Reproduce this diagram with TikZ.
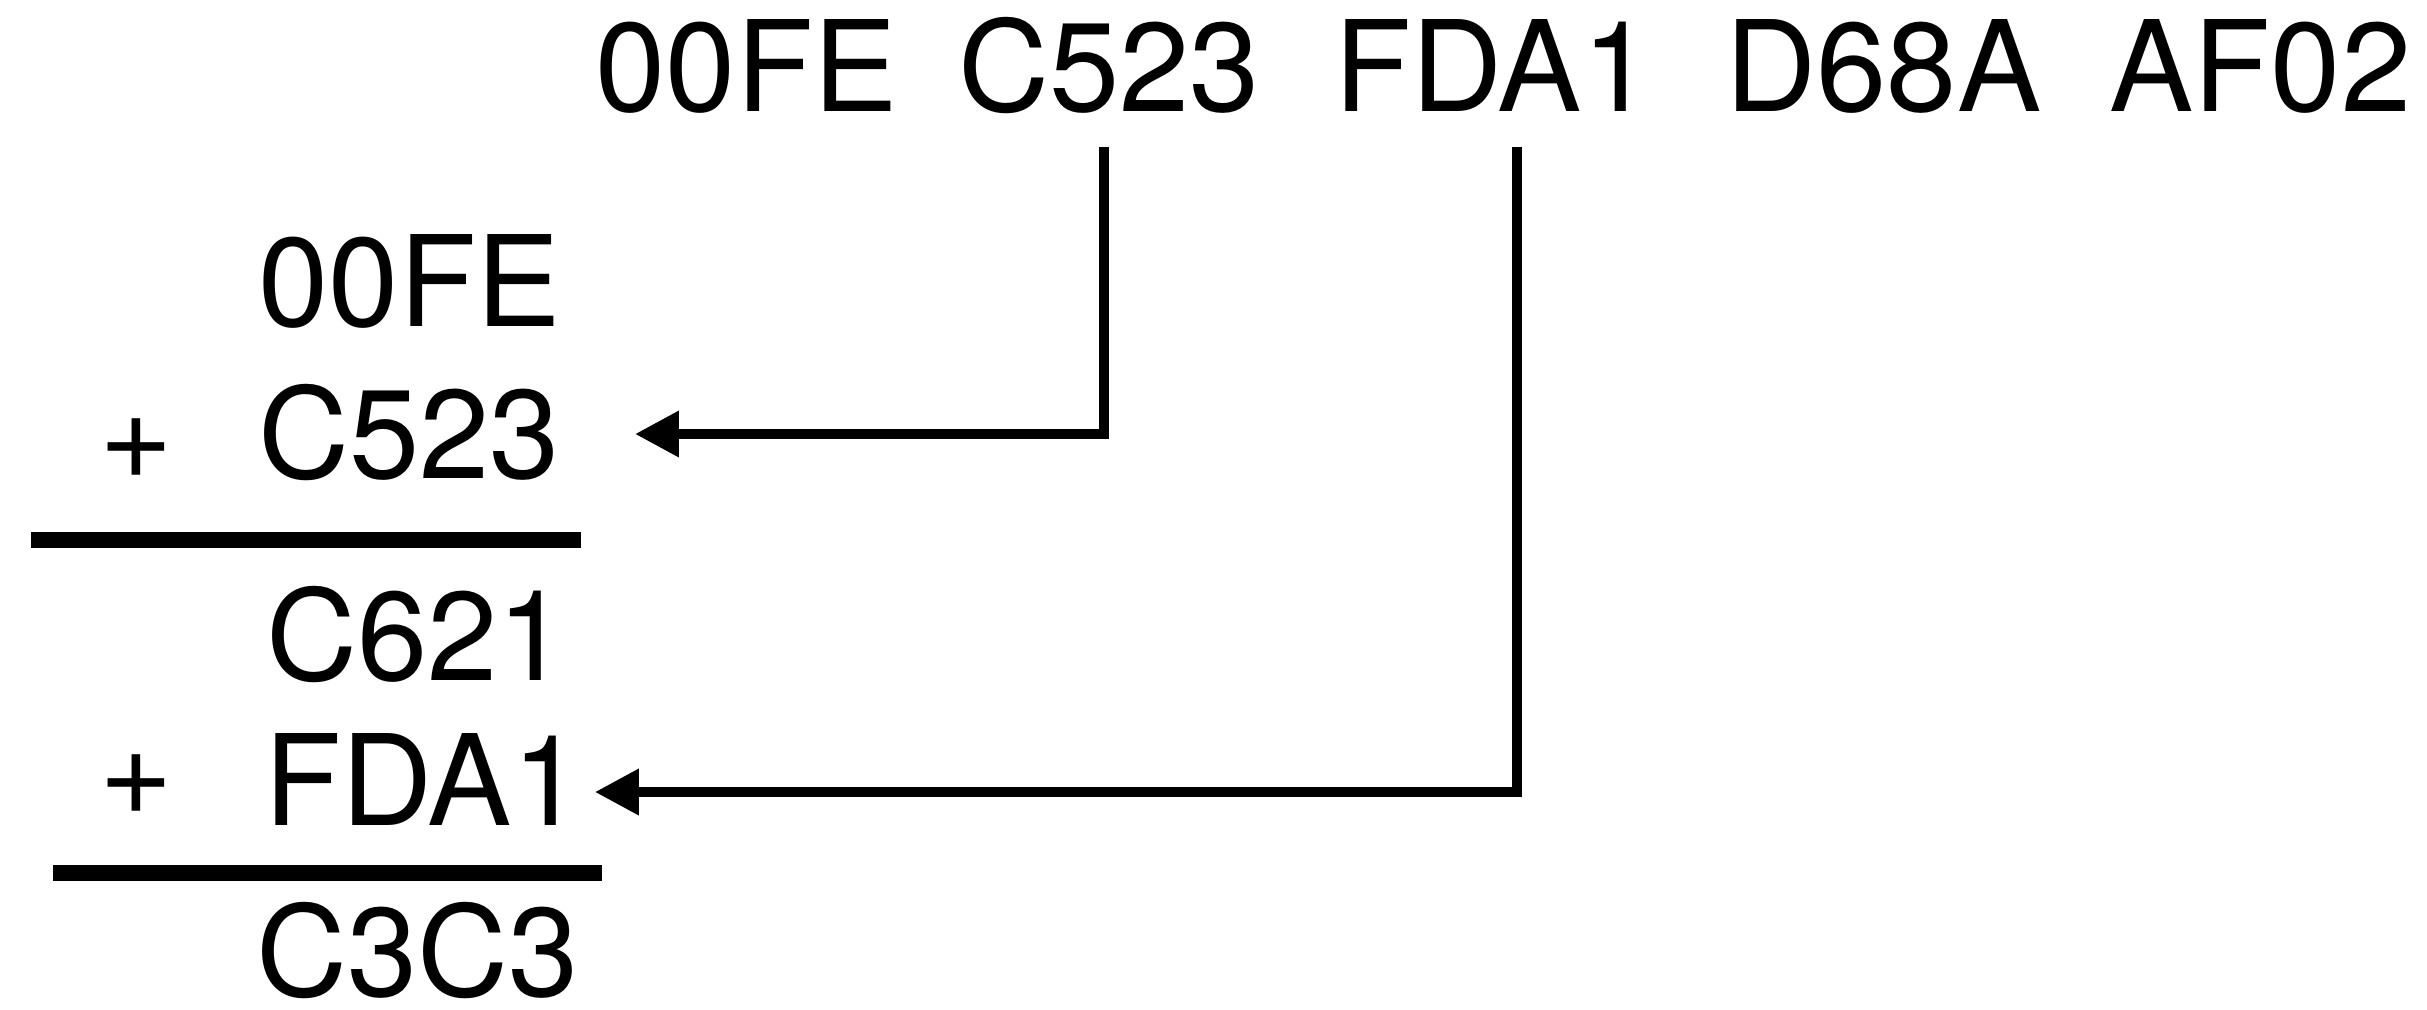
\documentclass[tikz,border=0pt]{standalone}
\usepackage{fontspec}
\setmainfont{TeX Gyre Heros}
\usetikzlibrary{arrows.meta}
\newcommand{\hexfont}{\fontsize{35.9}{43}\selectfont}

\begin{document}
\begin{tikzpicture}[
  hexnum/.style={inner sep=0pt, anchor=base west, font=\hexfont},
  arrow/.style={-{Triangle[length=0.44cm, width=0.44cm]}, line width=0.1cm},
  sumline/.style={line width=0.16cm}
]
\useasboundingbox (0,0) rectangle (24.27,10.09);

% the sequence along the top
\node[hexnum] (t00FE) at (5.95,8.98) {00FE};
\node[hexnum] (tC523) at (9.575,8.98) {C523};
\node[hexnum] (tFDA1) at (13.34,8.98) {FDA1};
\node[hexnum] (tD68A) at (17.25,8.98) {D68A};
\node[hexnum] (tAF02) at (21.09,8.98) {AF02};

% first sum
\node[hexnum] (s00FE) at (2.58,6.83) {00FE};
\node[hexnum] (plusA) at (0.99,5.31) {+};
\node[hexnum] (sC523) at (2.575,5.31) {C523};
\draw[sumline] (0.31,4.69) -- (5.81,4.69);

% second sum
\node[hexnum] (sC621) at (2.655,3.29) {C621};
\node[hexnum] (plusB) at (0.99,1.95) {+};
\node[hexnum] (sFDA1) at (2.64,1.84) {FDA1};
\draw[sumline] (0.53,1.36) -- (6.02,1.36);
\node[hexnum] (sC3C3) at (2.555,0.13) {C3C3};

\draw[arrow] ([xshift=-0.05cm,yshift=-0.33cm]tC523.south) |- ([xshift=0.745cm,yshift=-0.02cm]sC523.east);
\draw[arrow] ([xshift=0.24cm,yshift=-0.35cm]tFDA1.south) |- ([xshift=0.12cm,yshift=-0.13cm]sFDA1.east);
\end{tikzpicture}
\end{document}
